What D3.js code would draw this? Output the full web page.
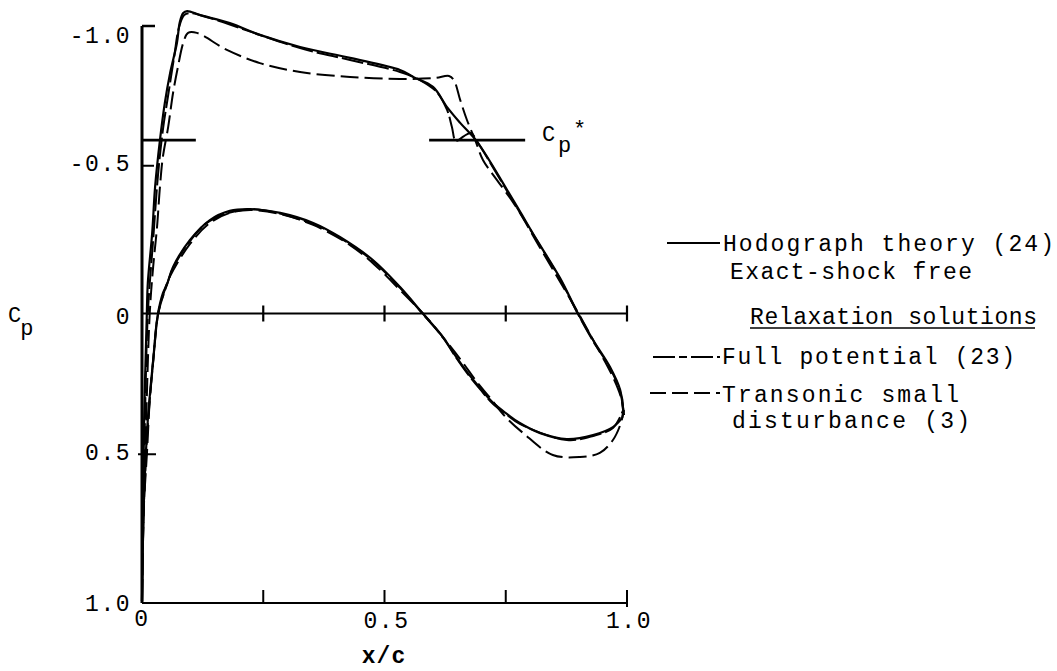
<!DOCTYPE html>
<html>
<head>
<meta charset="utf-8">
<script src="https://cdn.jsdelivr.net/npm/d3@7"></script>
<style>
  html, body { margin: 0; padding: 0; background: #fff; }
  svg { display: block; }
  text { font-family: "Liberation Mono", "Courier New", monospace; fill: #000; }
</style>
</head>
<body>
<svg id="chart" width="1057" height="671"></svg>
<script>
// ---------------- data (x/c, Cp) ----------------
const hodographUpper = [[0,1.0],[0.002,0.718],[0.004,0.405],[0.010,-0.002],[0.012,-0.106],[0.021,-0.280],[0.027,-0.440],[0.037,-0.603],[0.047,-0.732],[0.058,-0.837],[0.072,-0.941],[0.078,-1.014],[0.085,-1.045],[0.093,-1.052],[0.120,-1.038],[0.181,-1.010],[0.243,-0.969],[0.326,-0.927],[0.429,-0.889],[0.532,-0.847],[0.559,-0.823],[0.600,-0.788],[0.629,-0.718],[0.656,-0.663],[0.691,-0.597],[0.765,-0.395],[0.814,-0.256],[0.862,-0.123],[0.899,0.0],[0.930,0.092],[0.965,0.186],[0.986,0.266],[0.992,0.336],[0.990,0.363]];
const hodographLower = [[0,1.0],[0.004,0.649],[0.012,0.370],[0.023,0.163],[0.033,0.0],[0.043,-0.070],[0.052,-0.104],[0.064,-0.162],[0.099,-0.256],[0.140,-0.325],[0.181,-0.357],[0.223,-0.363],[0.285,-0.350],[0.353,-0.315],[0.408,-0.266],[0.476,-0.186],[0.532,-0.092],[0.579,0.0],[0.621,0.083],[0.645,0.144],[0.670,0.203],[0.697,0.259],[0.724,0.311],[0.753,0.350],[0.779,0.381],[0.821,0.416],[0.876,0.437],[0.930,0.423],[0.971,0.395],[0.990,0.363]];

const fullPotentialUpper = [[0,1.0],[0.002,0.683],[0.006,0.370],[0.012,0.0],[0.023,-0.256],[0.033,-0.482],[0.043,-0.638],[0.054,-0.760],[0.066,-0.889],[0.076,-0.993],[0.087,-1.038],[0.099,-1.045],[0.140,-1.028],[0.202,-0.993],[0.326,-0.923],[0.429,-0.882],[0.532,-0.840],[0.573,-0.812],[0.608,-0.770],[0.629,-0.708],[0.639,-0.649],[0.647,-0.600],[0.664,-0.617],[0.678,-0.628],[0.693,-0.593],[0.765,-0.391],[0.821,-0.235],[0.862,-0.120],[0.899,0.002],[0.930,0.096],[0.965,0.190],[0.986,0.273],[0.992,0.336]];
const fullPotentialLower = [[0,1.0],[0.004,0.666],[0.012,0.388],[0.023,0.169],[0.033,0.003],[0.052,-0.103],[0.064,-0.158],[0.099,-0.252],[0.140,-0.322],[0.223,-0.363],[0.353,-0.311],[0.408,-0.263],[0.476,-0.183],[0.532,-0.089],[0.579,0.002],[0.621,0.085],[0.645,0.147],[0.670,0.207],[0.697,0.263],[0.724,0.315],[0.753,0.353],[0.779,0.384],[0.876,0.440],[0.930,0.426],[0.971,0.398],[0.992,0.336]];

const transonicUpper = [[0.002,0.788],[0.008,0.405],[0.016,-0.002],[0.023,-0.162],[0.031,-0.301],[0.037,-0.440],[0.043,-0.544],[0.054,-0.649],[0.064,-0.767],[0.074,-0.857],[0.085,-0.941],[0.095,-0.976],[0.113,-0.976],[0.175,-0.917],[0.243,-0.871],[0.326,-0.840],[0.429,-0.823],[0.532,-0.816],[0.604,-0.819],[0.633,-0.826],[0.643,-0.812],[0.656,-0.743],[0.670,-0.673],[0.687,-0.603],[0.703,-0.534],[0.732,-0.464],[0.769,-0.377],[0.821,-0.228],[0.866,-0.099],[0.903,0.009],[0.936,0.110],[0.969,0.214],[0.988,0.294],[0.994,0.353]];
const transonicLower = [[0.002,0.701],[0.010,0.492],[0.016,0.301],[0.025,0.127],[0.033,0.005],[0.043,-0.061],[0.058,-0.130],[0.099,-0.242],[0.140,-0.315],[0.181,-0.350],[0.223,-0.360],[0.285,-0.346],[0.353,-0.308],[0.429,-0.238],[0.480,-0.169],[0.532,-0.082],[0.588,0.016],[0.635,0.113],[0.662,0.172],[0.689,0.235],[0.718,0.294],[0.748,0.357],[0.786,0.416],[0.847,0.492],[0.903,0.499],[0.944,0.485],[0.971,0.440],[0.986,0.388],[0.994,0.336]];

const cpStar = -0.603;
const cpStarSegments = [[0, 0.111], [0.592, 0.790]];

const yTickValues = [-1, -0.5, 0, 0.5, 1];
const yTickLabels = ["-1.0", "-0.5", "0", "0.5", "1.0"];
const xTickValues = [0.25, 0.5, 0.75, 1.0];
const xLabelValues = [0, 0.5, 1.0];
const xLabelTexts = ["0", "0.5", "1.0"];

const legendHodograph = ["Hodograph theory (24)", "Exact-shock free"];
const legendHeader = "Relaxation solutions";
const legendFull = ["Full potential (23)"];
const legendTransonic = ["Transonic small", "disturbance (3)"];

// ---------------- drawing ----------------
const svg = d3.select("#chart");
const x = d3.scaleLinear().domain([0, 1]).range([142, 627]);
const y = d3.scaleLinear().domain([-1, 1]).range([26, 601]);

const line = d3.line().x(d => x(d[0])).y(d => y(d[1])).curve(d3.curveCatmullRom.alpha(0.5));

const FONT = 23;
const dashFull = "22,4";
const dashTsd = "18,6";

// axes
const ax = svg.append("g").attr("stroke", "#000").attr("fill", "none");
ax.append("line").attr("x1", x(0)).attr("x2", x(0)).attr("y1", y(-1)).attr("y2", y(1) + 2).attr("stroke-width", 3);
ax.append("line").attr("x1", x(0)).attr("x2", x(0) + 13).attr("y1", y(-1)).attr("y2", y(-1)).attr("stroke-width", 2.5);
ax.append("line").attr("x1", x(0)).attr("x2", x(0) + 12).attr("y1", y(-0.5) - 4).attr("y2", y(-0.5) - 4).attr("stroke-width", 2);
ax.append("line").attr("x1", x(0) - 4).attr("x2", x(0) + 14).attr("y1", y(0.5) - 3).attr("y2", y(0.5) - 3).attr("stroke-width", 2);
// zero line
ax.append("line").attr("x1", x(0)).attr("x2", x(1)).attr("y1", y(0)).attr("y2", y(0)).attr("stroke-width", 2.2);
ax.selectAll(".zt").data(xTickValues).enter().append("line")
  .attr("x1", d => x(d)).attr("x2", d => x(d)).attr("y1", y(0) - 8).attr("y2", y(0) + 8).attr("stroke-width", 2.2);
// bottom axis
ax.append("line").attr("x1", x(0)).attr("x2", x(1)).attr("y1", y(1) + 2).attr("y2", y(1) + 2).attr("stroke-width", 2);
ax.selectAll(".bt").data(xTickValues).enter().append("line")
  .attr("x1", d => x(d)).attr("x2", d => x(d)).attr("y1", y(1) - 11).attr("y2", d => y(1) + (d === 1 ? 6 : 2)).attr("stroke-width", 2);

// Cp* lines
ax.selectAll(".cps").data(cpStarSegments).enter().append("line")
  .attr("x1", d => x(d[0])).attr("x2", d => x(d[1])).attr("y1", y(cpStar)).attr("y2", y(cpStar)).attr("stroke-width", 2.8);

// curves
const curves = svg.append("g").attr("fill", "none").attr("stroke", "#000").attr("stroke-linejoin", "round");
[hodographUpper, hodographLower].forEach(s => curves.append("path").attr("d", line(s)).attr("stroke-width", 2.2));
[fullPotentialUpper, fullPotentialLower].forEach(s => curves.append("path").attr("d", line(s)).attr("stroke-width", 2).attr("stroke-dasharray", dashFull));
[transonicUpper, transonicLower].forEach(s => curves.append("path").attr("d", line(s)).attr("stroke-width", 2).attr("stroke-dasharray", dashTsd));

// y tick labels
svg.selectAll(".yl").data(yTickValues).enter().append("text")
  .attr("x", 131).attr("y", (d, i) => y(d) + (d === -1 ? 9 : d === -0.5 ? -7 : d === 0.5 ? -5 : 2))
  .attr("dy", "0.35em").attr("text-anchor", "end").attr("font-size", FONT)
  .attr("letter-spacing", 1.5)
  .text((d, i) => yTickLabels[i]);

// x labels
svg.selectAll(".xl").data(xLabelValues).enter().append("text")
  .attr("x", d => x(d) + (d === 0 ? 0 : 2)).attr("y", d => (d === 0 ? 626 : 628))
  .attr("text-anchor", "middle").attr("font-size", FONT).attr("letter-spacing", 1.5)
  .text((d, i) => xLabelTexts[i]);
svg.append("text").attr("x", 384).attr("y", 663).attr("text-anchor", "middle")
  .attr("font-size", FONT).attr("font-weight", "bold").attr("letter-spacing", 1).text("x/c");

// Cp axis label
const cpl = svg.append("text").attr("x", 8).attr("y", 322).attr("font-size", 22);
cpl.append("tspan").text("C");
cpl.append("tspan").attr("dy", 13).attr("dx", -1).text("p");

// Cp* label (separate pieces)
svg.append("text").attr("x", 542).attr("y", 141).attr("font-size", 22).text("C");
svg.append("text").attr("x", 558).attr("y", 152).attr("font-size", 22).text("p");
svg.append("text").attr("x", 573).attr("y", 136).attr("font-size", 22).text("*");

// legend
const lg = svg.append("g");
lg.append("line").attr("x1", 667).attr("x2", 720).attr("y1", 243).attr("y2", 243).attr("stroke", "#000").attr("stroke-width", 2);
lg.append("line").attr("x1", 653).attr("x2", 720).attr("y1", 357).attr("y2", 357).attr("stroke", "#000").attr("stroke-width", 2).attr("stroke-dasharray", "22,4,8,4");
lg.append("line").attr("x1", 650).attr("x2", 720).attr("y1", 393).attr("y2", 393).attr("stroke", "#000").attr("stroke-width", 2).attr("stroke-dasharray", "16,6");

const legendItems = [
  {t: legendHodograph[0], x: 723, y: 251, w: 331},
  {t: legendHodograph[1], x: 730, y: 279, w: 242},
  {t: legendHeader, x: 750, y: 324, w: 287},
  {t: legendFull[0], x: 722, y: 364, w: 293},
  {t: legendTransonic[0], x: 722, y: 402, w: 237},
  {t: legendTransonic[1], x: 732, y: 428, w: 238}
];
lg.selectAll("text.li").data(legendItems).enter().append("text")
  .attr("x", d => d.x).attr("y", d => d.y).attr("font-size", FONT)
  .attr("textLength", d => d.w).attr("lengthAdjust", "spacing")
  .text(d => d.t);
lg.append("line").attr("x1", 750).attr("x2", 1035).attr("y1", 328).attr("y2", 328).attr("stroke", "#000").attr("stroke-width", 1.3);
</script>
</body>
</html>
